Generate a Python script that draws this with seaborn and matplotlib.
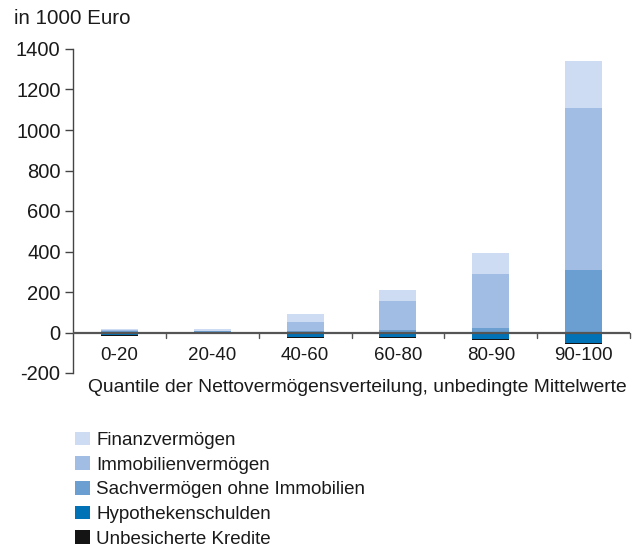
import matplotlib
matplotlib.use("Agg")
import matplotlib.pyplot as plt
from matplotlib.patches import Patch
import seaborn as sns
import pandas as pd
import numpy as np

# Quantiles of the net wealth distribution
quantile = ["0-20", "20-40", "40-60", "60-80", "80-90", "90-100"]

# Mean values in 1000 Euro
finanz = [8, 6, 36, 54, 103, 236]
immobilien = [5, 4, 47, 147, 270, 799]
sachvermoegen = [5, 5, 6, 11, 21, 308]
hypothek = [-12, -2, -21, -24, -31, -54]
unbesichert = [-5, -3, -4, -5, -4, -5]

series_names = ["Finanzvermögen", "Immobilienvermögen", "Sachvermögen ohne Immobilien",
                "Hypothekenschulden", "Unbesicherte Kredite"]
colors = ["#cddcf3", "#a2bde3", "#6b9fd1", "#0072b5", "#141414"]

sns.set_theme(style="white")
plt.rcParams["font.family"] = ["Liberation Sans", "DejaVu Sans"]
plt.rcParams["axes.unicode_minus"] = False
FS = 13.5

df = pd.DataFrame({
    "quantile": quantile,
    "fin": finanz, "immo": immobilien, "sach": sachvermoegen,
    "hypo": hypothek, "unb": unbesichert,
})
# cumulative stacks, drawn from outermost to innermost
df["pos3"] = df["fin"] + df["immo"] + df["sach"]
df["pos2"] = df["immo"] + df["sach"]
df["pos1"] = df["sach"]
df["neg2"] = df["hypo"] + df["unb"]
df["neg1"] = df["hypo"]

fig = plt.figure(figsize=(6.35, 5.5), dpi=100)
ax = fig.add_axes([73 / 635, 1 - 373 / 550, 557 / 635, 324 / 550])

layers = [("pos3", colors[0]), ("pos2", colors[1]), ("pos1", colors[2]),
          ("neg2", colors[4]), ("neg1", colors[3])]
for col, c in layers:
    sns.barplot(data=df, x="quantile", y=col, color=c, width=0.4,
                saturation=1, ax=ax, linewidth=0)

ax.set_ylim(-200, 1400)
ax.set_xlim(-0.5, 5.5)
ax.set_yticks(np.arange(-200, 1401, 200))
ax.set_ylabel("")
ax.set_xlabel("")

for s in ["top", "right", "bottom"]:
    ax.spines[s].set_visible(False)
ax.spines["left"].set_color("#444444")
ax.spines["left"].set_linewidth(1.0)

# zero line with category separator ticks
ax.axhline(0, color="#555555", lw=1.6, zorder=5)
for b in np.arange(0.5, 5.6, 1.0):
    ax.plot([b, b], [0, -25], color="#555555", lw=1.0, zorder=5, clip_on=False)

ax.tick_params(axis="y", direction="out", length=6, width=1, color="#444444",
               labelsize=14.5, labelcolor="#1a1a1a", pad=3, left=True)
ax.tick_params(axis="x", length=0, pad=0)
ax.set_xticks(range(len(quantile)))
ax.set_xticklabels([])
for i, q in enumerate(quantile):
    ax.text(i, -112, q, ha="center", va="center", fontsize=FS, color="#1a1a1a")

fig.text(357 / 635, 1 - 388 / 550,
         "Quantile der Nettovermögensverteilung, unbedingte Mittelwerte",
         ha="center", va="center", fontsize=13.9, color="#1a1a1a")
fig.text(14 / 635, 1 - 18 / 550, "in 1000 Euro", ha="left", va="center",
         fontsize=14.8, color="#1a1a1a")

handles = [Patch(facecolor=c, edgecolor="none") for c in colors]
leg = fig.legend(handles, series_names, loc="upper left",
                 bbox_to_anchor=(67 / 635, 1 - 424 / 550), frameon=False,
                 handlelength=0.85, handleheight=0.75, handletextpad=0.3,
                 labelspacing=0.39, fontsize=FS, borderaxespad=0)
for t in leg.get_texts():
    t.set_color("#1a1a1a")

fig.savefig("out.png", dpi=100)
